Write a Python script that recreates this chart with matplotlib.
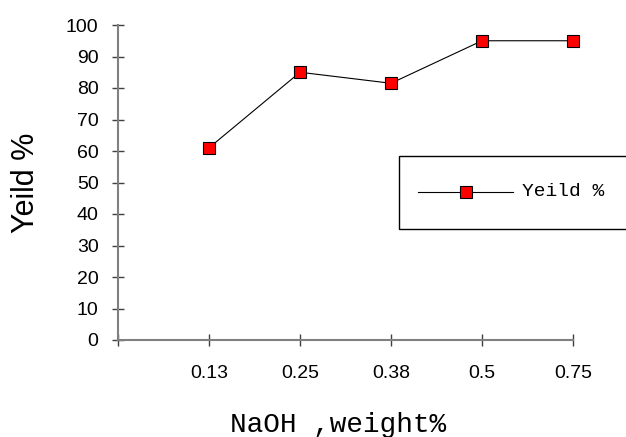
import matplotlib
matplotlib.use("Agg")
import matplotlib.pyplot as plt
from matplotlib.patches import Rectangle
from matplotlib.lines import Line2D

# NaOH loading vs yield
naoh_labels = ["0.13", "0.25", "0.38", "0.5", "0.75"]
yield_pct = [61, 85, 81.5, 95, 95]
y_ticks = list(range(0, 101, 10))

SANS = "Liberation Sans"
MONO = "Liberation Mono"

fig = plt.figure(figsize=(6.26, 4.37), dpi=100)
ax = fig.add_axes([118/626, 1 - 340/437, (573 - 118)/626, (340 - 25)/437])

xs = list(range(1, len(naoh_labels) + 1))
ax.plot(xs, yield_pct, color="black", lw=0.8, marker="s", ms=9,
        mfc="red", mec="black", mew=0.8, clip_on=False, zorder=3)

ax.set_xlim(0, len(naoh_labels))
ax.set_ylim(0, 100)
ax.set_xticks([0] + xs)
ax.set_xticklabels([""] + naoh_labels, fontfamily=SANS, fontsize=14)
ax.set_yticks(y_ticks)
ax.set_yticklabels([str(v) for v in y_ticks], fontfamily=SANS, fontsize=14)

for s in ["top", "right"]:
    ax.spines[s].set_visible(False)
for s in ["left", "bottom"]:
    ax.spines[s].set_color("#808080")
    ax.spines[s].set_linewidth(1.5)
ax.tick_params(axis="both", direction="inout", length=8, width=1,
               color="#404040")
ax.tick_params(axis="y", pad=10)
ax.tick_params(axis="x", pad=14)

fig.text(26/626, 1 - 183/437, "Yeild %", rotation=90, ha="center",
         va="center", fontfamily=SANS, fontsize=22)
fig.text(338/626, 1 - 432/437, "NaOH ,weight%", ha="center", va="baseline",
         fontfamily=MONO, fontsize=20)

# legend box, runs off the right edge like the original
fig.patches.append(Rectangle((399/626, 1 - 229/437), 0.5, 73/437,
                             transform=fig.transFigure, fill=False,
                             edgecolor="black", lw=1))
fig.lines.append(Line2D([418/626, 513/626], [1 - 192/437] * 2,
                        transform=fig.transFigure, color="black", lw=0.8))
fig.lines.append(Line2D([466/626], [1 - 192/437], transform=fig.transFigure,
                        marker="s", ms=9, mfc="red", mec="black", mew=0.8))
fig.text(522/626, 1 - 192/437, "Yeild %", va="center", ha="left",
         fontfamily=MONO, fontsize=14)

fig.savefig("out.png", dpi=100)
